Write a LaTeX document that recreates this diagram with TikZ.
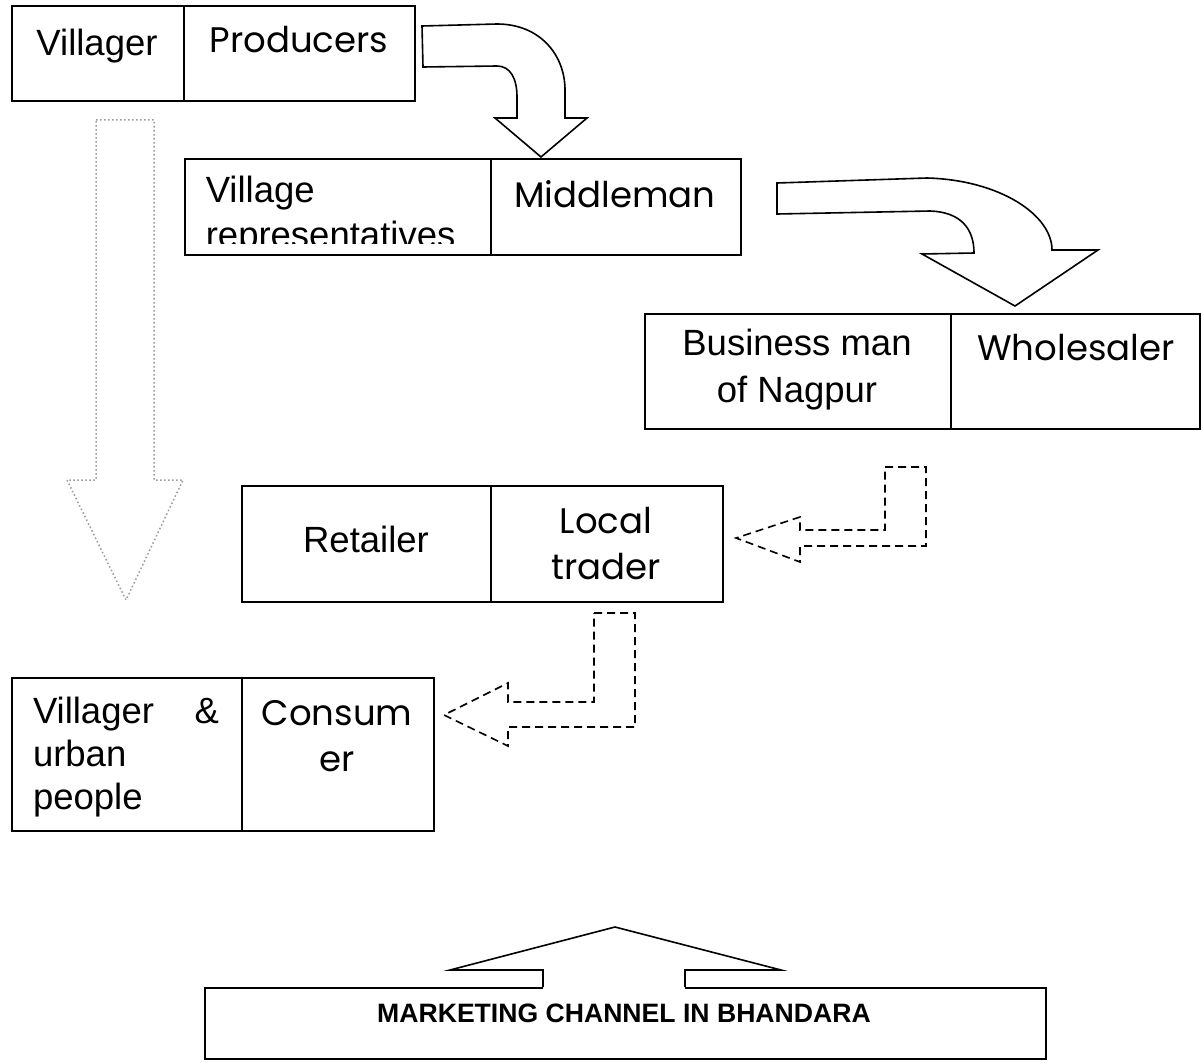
\documentclass[tikz,border=0pt]{standalone}
\usepackage{fontspec}
\setmainfont{Liberation Sans}
\newfontfamily\gothicfont{Poppins}
\usetikzlibrary{calc}

\begin{document}
\begin{tikzpicture}[x=1pt,y=-1pt,line width=1.6pt,
    cell/.style={draw,inner sep=0pt,anchor=north west},
    arialtext/.style={inner sep=0pt,font=\fontsize{36.5}{45}\selectfont},
    gothictext/.style={inner sep=0pt,font=\gothicfont\fontsize{35.5}{46}\selectfont},
    bigarrow/.style={draw,fill=white,line join=miter},
    dasharrow/.style={draw,dash pattern=on 8pt off 5pt},
    dotarrow/.style={draw=gray!80,line width=1.5pt,dash pattern=on 1.5pt off 2.5pt}]
    \useasboundingbox (0,0) rectangle (1201,1062);
    % villager -> producers
    \node[cell,minimum width=172pt,minimum height=95pt] (vil) at (11,5) {};
    \node[cell,minimum width=231pt,minimum height=95pt] (prod) at (183,5) {};
    \node[arialtext] (vilT) at (97,46) {Villager};
    \node[gothictext] (prodT) at (299,40) {Producers};
    % middleman
    \node[cell,minimum width=306pt,minimum height=96pt] (rep) at (184,158) {};
    \node[cell,minimum width=250pt,minimum height=96pt] (mid) at (490,158) {};
    \begin{scope}
      \clip (184,158) rectangle (490,243);
      \node[arialtext,align=left,anchor=north west] (repT) at (205,175) {Village\\representatives};
    \end{scope}
    \node[gothictext] (midT) at (615,194) {Middleman};
    % wholesaler
    \node[cell,minimum width=306pt,minimum height=115pt] (bus) at (644,313) {};
    \node[cell,minimum width=249pt,minimum height=115pt] (whole) at (950,313) {};
    \node[arialtext,align=center,font=\fontsize{36.5}{47}\selectfont] (busT) at (797,370) {Business man\\of Nagpur};
    \node[gothictext] (wholeT) at (1076,348) {Wholesaler};
    % retailer
    \node[cell,minimum width=249pt,minimum height=116pt] (ret) at (241,485) {};
    \node[cell,minimum width=232pt,minimum height=116pt] (loc) at (490,485) {};
    \node[arialtext] (retT) at (366,539) {Retailer};
    \node[gothictext,align=center] (locT) at (606,544) {Local\\trader};
    % consumer
    \node[cell,minimum width=230pt,minimum height=153pt] (urb) at (11,677) {};
    \node[cell,minimum width=192pt,minimum height=153pt] (cons) at (241,677) {};
    \node[arialtext,text width=186pt,align=left,font=\fontsize{36.5}{43}\selectfont] (urbT) at (126,757) {Villager\hfill\&\\urban\\people};
    \node[gothictext,align=center] (consT) at (337,736) {Consum\\er};
    % title
    \node[cell,minimum width=841pt,minimum height=71pt] (title) at (204,987) {};
    \node[inner sep=0pt,font=\bfseries\fontsize{26.6}{30}\selectfont] (titleT) at (624,1013) {MARKETING CHANNEL IN BHANDARA};

    % arrows
    \draw[dotarrow] (96,120) -- (154,120) -- (154,480) -- (183,480) -- (126,600) -- (67,480) -- (96,480) -- cycle;
    \draw[bigarrow] (422,26) -- (497,24) .. controls (540,24) and (565,55) .. (565,90) -- (565,118) -- (587,118) -- (541,157) -- (495,118) -- (517,118) -- (517,97) .. controls (517,78) and (510,66) .. (497,66) -- (423,67) -- cycle;
    \draw[bigarrow] (777,183) -- (927,178) .. controls (1000,180) and (1052,215) .. (1052,250) -- (1098,250) -- (1015,306) -- (922,254) -- (974,253) .. controls (974,228) and (960,212) .. (930,211) -- (777,214) -- cycle;
    \draw[dasharrow] (885,467) -- (926,467) -- (926,546) -- (800,546) -- (800,562) -- (736,538) -- (800,517) -- (800,530) -- (885,530) -- cycle;
    \draw[dasharrow] (594,613) -- (635,613) -- (635,727) -- (508,727) -- (508,746) -- (444,715) -- (508,683) -- (508,702) -- (594,702) -- cycle;
    \fill[white] (543,990) -- (543,970) -- (685,970) -- (685,990) -- cycle;
    \draw[line join=miter] (543,987) -- (543,970) -- (450,970) -- (615,927) -- (781,970) -- (685,970) -- (685,987);
\end{tikzpicture}
\end{document}
